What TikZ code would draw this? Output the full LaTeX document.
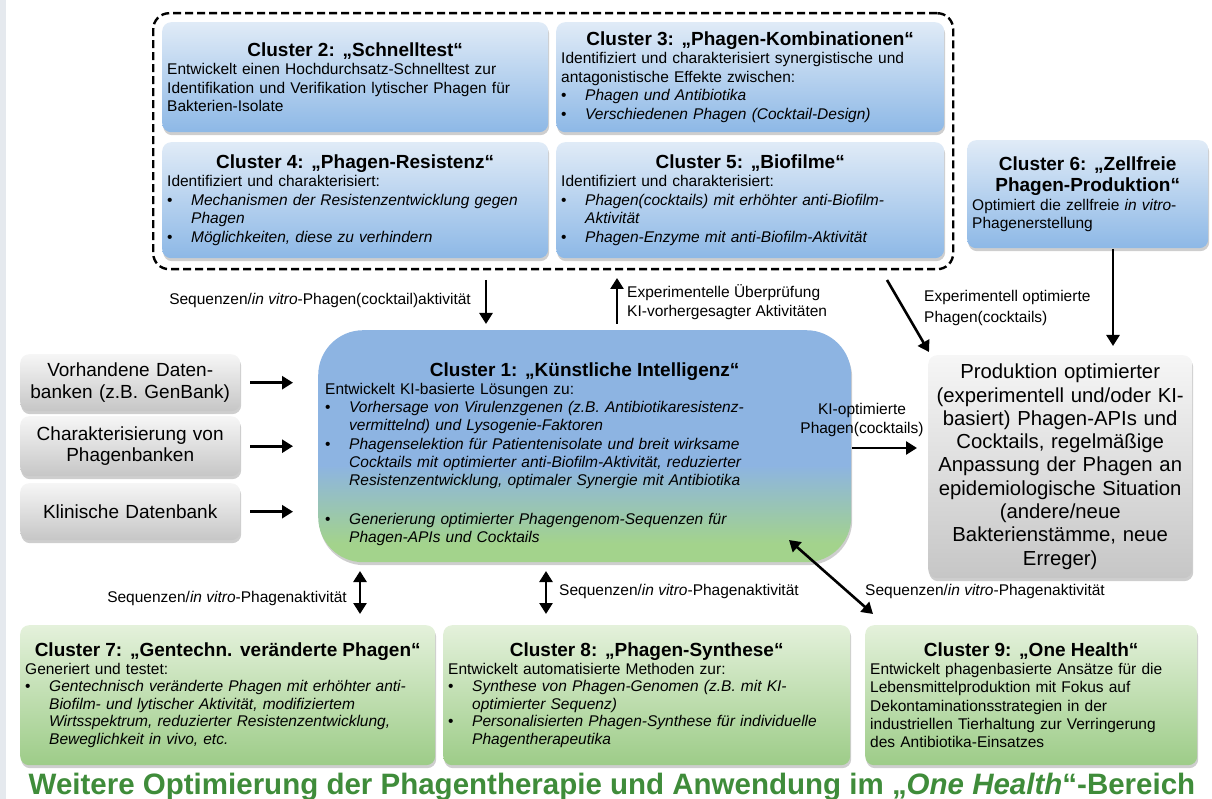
\documentclass[tikz,border=0pt]{standalone}
\usepackage{fontspec}
\setmainfont{Liberation Sans}
\usetikzlibrary{arrows.meta,shadows}
\definecolor{bluetop}{RGB}{224,235,247}
\definecolor{bluebot}{RGB}{141,184,230}
\definecolor{c1blue}{RGB}{141,180,226}
\definecolor{c1green}{RGB}{163,211,140}
\definecolor{graytop}{RGB}{246,246,246}
\definecolor{graybot}{RGB}{198,198,198}
\definecolor{greentop}{RGB}{228,241,219}
\definecolor{greenbot}{RGB}{157,204,136}
\definecolor{titlegreen}{RGB}{63,140,58}
\definecolor{stripgray}{RGB}{229,233,238}
\pgfdeclareverticalshading{cioneshade}{100bp}{color(0bp)=(c1green); color(29bp)=(c1green); color(46bp)=(c1blue); color(100bp)=(c1blue)}
\newcommand\ctitle[1]{{\centering\fontsize{19}{21.5}\selectfont\bfseries #1\par}}
\newcommand\bul[1]{\par\hangindent=24pt\hangafter=1\noindent\makebox[24pt][l]{\textbullet}{\itshape #1}}
\tikzset{
  cbox/.style={rounded corners=9pt, anchor=north west, inner xsep=5pt, inner ysep=2pt,
    align=left, font=\fontsize{15.5}{18.5}\selectfont,
    drop shadow={shadow xshift=1pt, shadow yshift=-3pt, opacity=.35, fill=black!55}},
  bluebox/.style={cbox, top color=bluetop, bottom color=bluebot},
  greenbox/.style={cbox, top color=greentop, bottom color=greenbot, font=\fontsize{15.5}{17.5}\selectfont},
  graybox/.style={cbox, top color=graytop, bottom color=graybot, align=center},
  dashbox/.style={draw=black, line width=2.4pt, dash pattern=on 8pt off 4pt, rounded corners=16pt, anchor=north west},
  arr/.style={line width=2.6pt, -{Triangle[width=13pt,length=11pt]}},
  darr/.style={line width=2.6pt, {Triangle[width=13pt,length=11pt]}-{Triangle[width=13pt,length=11pt]}},
  lab/.style={font=\fontsize{15.5}{18.5}\selectfont, inner sep=0pt}
}
\begin{document}
\begin{tikzpicture}[x=1pt,y=-1pt]
\useasboundingbox (0,0) rectangle (1212,799);
\fill[stripgray] (0,0) rectangle (6,799);

% dashed frame
\node[dashbox, minimum width=800pt, minimum height=256pt] (dash) at (152,12) {};

% top clusters
\node[bluebox, minimum width=386pt, minimum height=110pt, text width=376pt] (c2) at (162,22)
 {\ctitle{Cluster 2: „Schnelltest“}Entwickelt einen Hochdurchsatz-Schnelltest zur\\Identifikation und Verifikation lytischer Phagen für\\Bakterien-Isolate};
\node[bluebox, minimum width=388pt, minimum height=110pt, text width=378pt] (c3) at (556,22)
 {\ctitle{Cluster 3: „Phagen-Kombinationen“}Identifiziert und charakterisiert synergistische und\\antagonistische Effekte zwischen:\bul{Phagen und Antibiotika}\bul{Verschiedenen Phagen (Cocktail-Design)}\par};
\node[bluebox, minimum width=386pt, minimum height=116pt, text width=376pt] (c4) at (162,142)
 {\ctitle{Cluster 4: „Phagen-Resistenz“}Identifiziert und charakterisiert:\bul{Mechanismen der Resistenzentwicklung gegen\newline Phagen}\bul{Möglichkeiten, diese zu verhindern}\par};
\node[bluebox, minimum width=388pt, minimum height=116pt, text width=378pt] (c5) at (556,142)
 {\ctitle{Cluster 5: „Biofilme“}Identifiziert und charakterisiert:\bul{Phagen(cocktails) mit erhöhter anti-Biofilm-\newline Aktivität}\bul{Phagen-Enzyme mit anti-Biofilm-Aktivität}\par};
\node[bluebox, minimum width=241pt, minimum height=108pt, text width=231pt] (c6) at (967,140)
 {\ctitle{Cluster 6: „Zellfreie\\Phagen-Produktion“}Optimiert die zellfreie \textit{in vitro}-\\Phagenerstellung};

% cluster 1
\node[cbox, shading=cioneshade, rounded corners=45pt, inner xsep=7pt, minimum width=533pt, minimum height=232pt, text width=519pt, font=\fontsize{15.5}{18.2}\selectfont] (c1) at (318,330)
 {\ctitle{\rule{0pt}{30pt}Cluster 1: „Künstliche Intelligenz“}Entwickelt KI-basierte Lösungen zu:\bul{Vorhersage von Virulenzgenen (z.B. Antibiotikaresistenz-\newline vermittelnd) und Lysogenie-Faktoren}\bul{Phagenselektion für Patientenisolate und breit wirksame\newline Cocktails mit optimierter anti-Biofilm-Aktivität, reduzierter\newline Resistenzentwicklung, optimaler Synergie mit Antibiotika}\par\vspace{21pt}\bul{Generierung optimierter Phagengenom-Sequenzen für\newline Phagen-APIs und Cocktails}\par};

% left input boxes
\node[graybox, minimum width=220pt, minimum height=57pt, text width=210pt, font=\fontsize{19}{21.5}\selectfont] (g1) at (20,354) {Vorhandene Daten-\\banken (z.B. GenBank)};
\node[graybox, minimum width=220pt, minimum height=60pt, text width=210pt, font=\fontsize{19}{21.5}\selectfont] (g2) at (20,416) {Charakterisierung von\\Phagenbanken};
\node[graybox, minimum width=220pt, minimum height=57pt, text width=210pt, font=\fontsize{19}{21.5}\selectfont] (g3) at (20,483) {Klinische Datenbank};

% right production box
\node[graybox, inner xsep=1pt, minimum width=264pt, minimum height=223pt, text width=262pt, font=\fontsize{20.3}{23.3}\selectfont] (rb) at (928,355)
 {Produktion optimierter\\(experimentell und/oder KI-\\basiert) Phagen-APIs und\\Cocktails, regelmäßige\\Anpassung der Phagen an\\epidemiologische Situation\\(andere/neue\\Bakterienstämme, neue\\Erreger)};

% bottom clusters
\node[greenbox, minimum width=415pt, minimum height=140pt, text width=405pt] (c7) at (20,625)
 {\ctitle{Cluster 7: „Gentechn. veränderte Phagen“}Generiert und testet:\bul{Gentechnisch veränderte Phagen mit erhöhter anti-\newline Biofilm- und lytischer Aktivität, modifiziertem\newline Wirtsspektrum, reduzierter Resistenzentwicklung,\newline Beweglichkeit in vivo, etc.}\par\vspace{6pt}};
\node[greenbox, minimum width=407pt, minimum height=140pt, text width=397pt] (c8) at (443,625)
 {\ctitle{Cluster 8: „Phagen-Synthese“}Entwickelt automatisierte Methoden zur:\bul{Synthese von Phagen-Genomen (z.B. mit KI-\newline optimierter Sequenz)}\bul{Personalisierten Phagen-Synthese für individuelle\newline Phagentherapeutika}\par\vspace{6pt}};
\node[greenbox, minimum width=332pt, minimum height=140pt, text width=322pt, font=\fontsize{15.5}{18.3}\selectfont] (c9) at (865,625)
 {\ctitle{Cluster 9: „One Health“}Entwickelt phagenbasierte Ansätze für die\\Lebensmittelproduktion mit Fokus auf\\Dekontaminationsstrategien in der\\industriellen Tierhaltung zur Verringerung\\des Antibiotika-Einsatzes\par\vspace{4pt}};

% bottom title
\node[anchor=base, text=titlegreen, font=\fontsize{29.5}{33}\selectfont\bfseries, inner sep=0pt] (bt) at (612,794)
 {Weitere Optimierung der Phagentherapie und Anwendung im „\textit{One Health}“-Bereich};

% connector end points
\coordinate (ad1) at (486,280);
\coordinate (ad2) at (486,324);
\coordinate (au1) at (617,324);
\coordinate (au2) at (617,278);
\coordinate (ag1) at (887,280);
\coordinate (ag2) at (929,352);
\coordinate (a61) at (1113,249);
\coordinate (a62) at (1113,346);
\coordinate (ak1) at (852,448);
\coordinate (ak2) at (917,448);
\coordinate (b71) at (360,571);
\coordinate (b72) at (360,614);
\coordinate (b81) at (546,571);
\coordinate (b82) at (546,614);
\coordinate (b91) at (789,540);
\coordinate (b92) at (873,614);

% connectors
\draw[arr] ([xshift=10pt]g1.east) -- ([xshift=-25pt]g1.east -| c1.west);
\draw[arr] ([xshift=10pt]g2.east) -- ([xshift=-25pt]g2.east -| c1.west);
\draw[arr] ([xshift=10pt]g3.east) -- ([xshift=-25pt]g3.east -| c1.west);
\draw[arr] (ad1) -- (ad2);
\draw[arr] (au1) -- (au2);
\draw[arr] (ag1) -- (ag2);
\draw[arr] (a61) -- (a62);
\draw[arr] (ak1) -- (ak2);
\draw[darr] (b71) -- (b72);
\draw[darr] (b81) -- (b82);
\draw[darr] (b91) -- (b92);

% connector labels
\node[lab, anchor=east] (l1) at (471,300) {Sequenzen/\textit{in vitro}-Phagen(cocktail)aktivität};
\node[lab, anchor=west, align=left] (l2) at (627,302) {Experimentelle Überprüfung\\KI-vorhergesagter Aktivitäten};
\node[lab, anchor=west, align=left, font=\fontsize{15.5}{21}\selectfont] (l3) at (924,308) {Experimentell optimierte\\Phagen(cocktails)};
\node[lab, align=center] (l4) at (862,420) {KI-optimierte\\Phagen(cocktails)};
\node[lab, anchor=east] (l5) at (347,598) {Sequenzen/\textit{in vitro}-Phagenaktivität};
\node[lab, anchor=west] (l6) at (559,591) {Sequenzen/\textit{in vitro}-Phagenaktivität};
\node[lab, anchor=west] (l7) at (865,591) {Sequenzen/\textit{in vitro}-Phagenaktivität};
\end{tikzpicture}
\end{document}
